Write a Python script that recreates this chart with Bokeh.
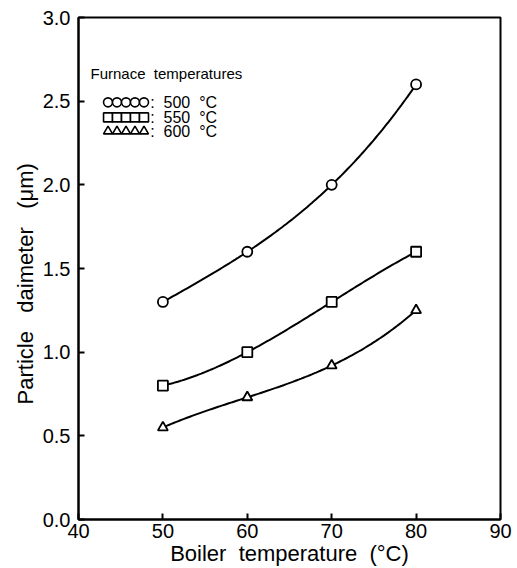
import numpy as np
from bokeh.plotting import figure
from bokeh.models import Range1d, FixedTicker, Label, CustomJSTickFormatter
from bokeh.embed import file_html
from bokeh.resources import INLINE

# Data
boiler_temp = [50, 60, 70, 80]
d_500 = [1.30, 1.60, 2.00, 2.60]
d_550 = [0.80, 1.00, 1.30, 1.60]
d_600 = [0.55, 0.73, 0.92, 1.25]
NB = "\u00a0"
series_labels = [":" + NB * 2 + "500" + NB * 2 + "°C",
                 ":" + NB * 2 + "550" + NB * 2 + "°C",
                 ":" + NB * 2 + "600" + NB * 2 + "°C"]
series_markers = ["circle", "square", "triangle"]
x_ticks = [40, 50, 60, 70, 80, 90]
y_ticks = [0.0, 0.5, 1.0, 1.5, 2.0, 2.5, 3.0]

FONT = "Liberation Sans"

p = figure(width=517, height=568, output_backend="svg", toolbar_location=None,
           x_range=Range1d(40, 90), y_range=Range1d(0, 3.0))
p.min_border_left = 78
p.min_border_right = 17
p.min_border_top = 17
p.min_border_bottom = 48
p.grid.visible = False
p.outline_line_color = "black"
p.outline_line_width = 2
p.background_fill_color = "white"
p.border_fill_color = "white"

p.xaxis.ticker = FixedTicker(ticks=x_ticks)
p.yaxis.ticker = FixedTicker(ticks=y_ticks)
for ax in (p.xaxis[0], p.yaxis[0]):
    ax.major_tick_in = 6
    ax.major_tick_out = 0
    ax.minor_tick_in = 0
    ax.minor_tick_out = 0
    ax.axis_line_width = 2
    ax.axis_line_color = "black"
    ax.major_tick_line_width = 2
    ax.major_label_text_font = FONT
    ax.major_label_text_font_size = "20px"
    ax.major_label_text_color = "black"
    ax.axis_label_text_font = FONT
    ax.axis_label_text_font_style = "normal"
    ax.axis_label_text_font_size = "22px"
    ax.axis_label_text_color = "black"

p.yaxis.formatter = CustomJSTickFormatter(code="return tick.toFixed(1);")
p.xaxis.major_label_standoff = 4
p.yaxis.major_label_standoff = 8
p.xaxis.axis_label = "Boiler" + NB * 2 + "temperature" + NB * 2 + "(°C)"
p.yaxis.axis_label = "Particle" + NB * 3 + "daimeter" + NB * 3 + "(μm)" + NB * 5
p.xaxis.axis_label_standoff = 0
p.yaxis.axis_label_standoff = 2

all_series = [d_500, d_550, d_600]
xs = np.array(boiler_temp, dtype=float)
xx = np.linspace(xs.min(), xs.max(), 120)
for ys, mk in zip(all_series, series_markers):
    coef = np.polyfit(xs, np.array(ys), 3)
    p.line(xx, np.polyval(coef, xx), line_color="black", line_width=2)
    p.scatter(boiler_temp, ys, marker=mk, size=10, fill_color="white",
              line_color="black", line_width=1.8)

# Legend (drawn manually: five markers in a row + label)
p.add_layout(Label(x=41.42, y=2.665, text="Furnace" + NB * 2 + "temperatures",
                   text_font=FONT, text_font_size="15px", text_baseline="middle",
                   text_color="black"))
row_y = [2.493, 2.403, 2.320]
mk_x = [43.50, 44.56, 45.63, 46.69, 47.76]
for ry, mk, lab in zip(row_y, series_markers, series_labels):
    p.scatter(mk_x, [ry] * len(mk_x), marker=mk, size=9, fill_color="white",
              line_color="black", line_width=1.6)
    p.add_layout(Label(x=48.5, y=ry, text=lab, text_font=FONT, text_font_size="16px",
                       text_baseline="middle", text_color="black"))

open("out.html", "w").write(file_html(p, INLINE))
